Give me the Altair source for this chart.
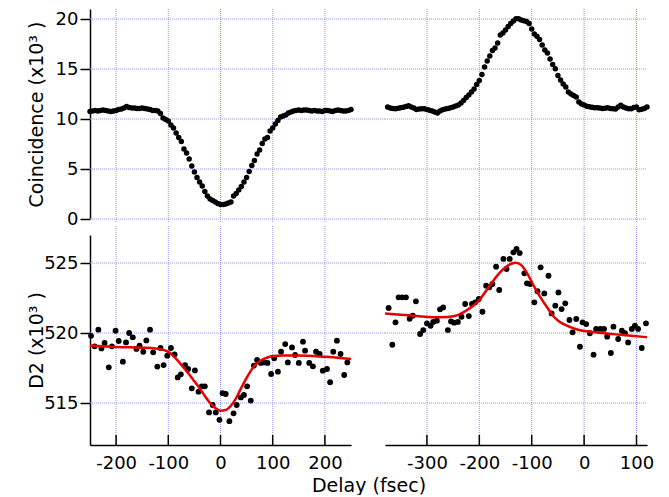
import altair as alt
import pandas as pd

FONT = "DejaVu Sans"
GRID = "#9696ee"

# ---------------- data ----------------
# top-left: coincidence dip
tl_t = list(range(-250, 255, 5))
tl_v = [10.75, 10.8, 10.85, 10.8, 10.85, 10.9, 10.85, 10.8, 10.75, 10.8,
        10.85, 10.95, 11.0, 11.1, 11.25, 11.15, 11.1, 11.1, 11.05, 11.05,
        11.1, 11.05, 11.0, 10.95, 10.85, 10.85, 10.8, 10.55, 10.1, 9.95,
        9.8, 9.4, 9.1, 8.6, 8.15, 7.75, 7.0, 6.6, 6.0, 5.3,
        4.7, 4.15, 3.7, 3.3, 2.75, 2.3, 2.0, 1.85, 1.7, 1.55,
        1.45, 1.45, 1.5, 1.6, 1.7, 2.3, 2.55, 2.9, 3.25, 3.7,
        4.15, 4.75, 5.35, 5.85, 6.5, 6.9, 7.55, 8.0, 8.15, 8.8,
        9.1, 9.5, 9.85, 10.2, 10.3, 10.4, 10.6, 10.7, 10.8, 10.85,
        10.9, 10.85, 10.9, 10.9, 10.85, 10.8, 10.85, 10.8, 10.8, 10.75,
        10.85, 10.85, 10.8, 10.75, 10.85, 10.9, 10.85, 10.8, 10.8, 10.85,
        10.95]

# top-right: coincidence peak
tr_t = list(range(-375, 125, 5))
tr_v = [11.2, 11.1, 11.05, 11.03, 11.08, 11.13, 11.18, 11.25, 11.33, 11.2,
        11.1, 10.95, 11.0, 11.03, 11.03, 10.95, 10.88, 10.8, 10.7, 10.6,
        10.8, 10.92, 11.0, 11.05, 11.12, 11.2, 11.3, 11.4, 11.6, 11.85,
        12.15, 12.4, 12.7, 13.0, 13.45, 13.85, 14.45, 15.2, 15.8, 16.3,
        16.85, 17.1, 17.6, 18.4, 18.6, 18.9, 19.25, 19.55, 19.8, 20.03,
        20.03, 19.9, 19.82, 19.75, 19.55, 19.0, 18.5, 18.27, 17.95, 17.4,
        16.9, 16.6, 16.0, 15.45, 15.03, 14.35, 13.9, 13.5, 13.2, 12.7,
        12.5, 12.35, 12.2, 11.7, 11.5, 11.4, 11.27, 11.22, 11.18, 11.13,
        11.12, 11.1, 11.05, 11.08, 11.13, 11.05, 11.03, 11.0, 11.2, 11.37,
        11.2, 11.1, 11.03, 11.03, 11.15, 11.2, 10.93, 10.98, 11.05, 11.2]

# bottom-left: D2 dip
bl_t = [-248, -241, -234, -228, -222, -214, -208, -201, -195, -187,
        -181, -175, -168, -161, -155, -148, -142, -135, -129, -121,
        -115, -109, -102, -95, -88, -82, -76, -68, -62, -55,
        -49, -42, -36, -30, -22, -15, -9, -2, 4, 10,
        17, 25, 31, 39, 45, 51, 58, 64, 70, 77,
        83, 90, 97, 103, 110, 116, 124, 129, 137, 143,
        150, 158, 162, 170, 177, 183, 190, 196, 204, 210,
        216, 223, 230, 237, 243]
bl_v = [519.8, 519.05, 520.24, 518.9, 519.29, 517.55, 519.05, 520.16, 519.43, 517.95,
        519.33, 520.0, 519.69, 518.86, 519.1, 518.66, 519.47, 520.24, 518.62, 517.6,
        518.93, 517.71, 518.38, 518.93, 518.47, 516.83, 517.05, 517.71, 517.43, 516.05,
        517.33, 515.81, 516.19, 516.19, 514.33, 514.86, 514.33, 513.8, 515.7, 515.64,
        513.7, 514.26, 514.86, 515.4, 515.57, 516.19, 515.17, 517.67, 518.07, 517.86,
        517.9, 517.86, 517.07, 518.19, 517.24, 518.66, 519.21, 517.9, 518.97, 518.43,
        517.86, 519.38, 518.74, 517.86, 517.62, 518.66, 518.5, 517.31, 517.43, 516.48,
        518.66, 519.45, 518.5, 517.0, 517.9]
# bottom-left fit (red)
fl_t = [-250, -200, -150, -125, -110, -100, -90, -80, -70, -60, -50, -40, -30, -20,
        -10, 0, 10, 20, 30, 40, 50, 60, 70, 80, 90, 100, 120, 150, 200, 250]
fl_v = [519.1, 519.0, 518.95, 518.9, 518.8, 518.65, 518.35, 517.95, 517.5, 517.05,
        516.55, 516.05, 515.5, 515.0, 514.65, 514.45, 514.5, 514.8, 515.35, 516.1,
        516.8, 517.4, 517.85, 518.1, 518.25, 518.35, 518.4, 518.4, 518.3, 518.15]

# bottom-right: D2 peak
br_t = [-373, -366, -360, -354, -347, -340, -333, -327, -321, -313,
        -307, -300, -293, -288, -281, -275, -269, -260, -254, -248,
        -241, -234, -227, -220, -214, -208, -201, -194, -187, -181,
        -175, -168, -162, -154, -148, -142, -135, -129, -123, -114,
        -109, -103, -95, -89, -83, -76, -68, -62, -55, -49,
        -43, -36, -28, -22, -15, -8, -3, 4, 11, 18,
        23, 31, 38, 44, 51, 56, 65, 72, 78, 84,
        91, 97, 103, 110, 118]
br_v = [521.79, 519.16, 520.76, 522.55, 522.55, 522.55, 521.02, 521.24, 522.26, 519.93,
        520.21, 520.69, 520.52, 520.79, 520.88, 521.69, 521.83, 520.21, 520.83, 520.74,
        520.79, 521.16, 522.07, 521.21, 522.07, 522.19, 522.43, 521.52, 523.38, 523.26,
        523.5, 524.74, 523.07, 525.29, 524.57, 525.29, 525.76, 526.0, 525.7, 524.26,
        523.55, 523.5, 522.19, 522.98, 524.69, 522.83, 524.09, 521.4, 521.95, 522.9,
        521.71, 522.12, 520.93, 520.05, 521.0, 519.02, 520.76, 520.64, 519.98, 518.45,
        520.29, 520.29, 520.29, 519.74, 518.57, 520.45, 519.57, 520.16, 519.98, 519.33,
        520.29, 520.52, 520.29, 518.93, 520.69]
# bottom-right fit (red)
fr_t = [-380, -350, -320, -290, -260, -240, -225, -210, -200, -190, -180, -170, -160,
        -150, -140, -130, -120, -110, -100, -90, -80, -70, -60, -50, -40, -25, -8,
        10, 25, 55, 90, 120]
fr_v = [521.4, 521.3, 521.22, 521.12, 521.15, 521.3, 521.6, 522.0, 522.35, 522.85,
        523.4, 523.9, 524.35, 524.7, 524.93, 525.02, 524.85, 524.35, 523.65, 522.95,
        522.35, 521.8, 521.25, 520.9, 520.65, 520.4, 520.2, 520.1, 520.03, 519.92,
        519.8, 519.7]

left_xticks = [-200, -100, 0, 100, 200]
right_xticks = [-300, -200, -100, 0, 100]
top_yticks = [0, 5, 10, 15, 20]
bot_yticks = [515, 520, 525]

# ---------------- layout ----------------
W_L, W_R = 261, 262
H_T, H_B = 210, 210
GAP_X, GAP_Y = 34, 16


def panel(pts, fit, xdom, ydom, xticks, yticks, W, H, show_x, show_y,
          ytitle, hgrid_to, vgrid_from, vgrid_to, dot_size, xtitle=None):
    xs = alt.Scale(domain=xdom, nice=False, zero=False)
    ys = alt.Scale(domain=ydom, nice=False, zero=False)
    if show_x:
        kw = {}
        if xtitle:
            kw = dict(title=xtitle, titleFont=FONT, titleFontSize=19,
                      titleFontWeight="normal", titleColor="black",
                      titleX=(W_L + GAP_X + W_R) / 2, titleY=46,
                      titleAlign="center", titleBaseline="alphabetic")
        else:
            kw = dict(title=None)
        xaxis = alt.Axis(values=xticks, ticks=False, grid=False, domain=True,
                         domainColor="black", domainWidth=1.5, labelFont=FONT,
                         labelFontSize=18, labelColor="black", labelPadding=9,
                         labelExpr="'' + datum.value", **kw)
    else:
        xaxis = None
    if show_y:
        yaxis = alt.Axis(values=yticks, tickSize=10, tickWidth=1.5, tickColor="black",
                         grid=False, domain=True, domainColor="black", domainWidth=1.5,
                         labelFont=FONT, labelFontSize=18, labelColor="black",
                         labelPadding=2, labelExpr="'' + datum.value",
                         title=ytitle, titleFont=FONT, titleFontSize=19,
                         titleFontWeight="normal", titleColor="black",
                         titlePadding=4, minExtent=40, maxExtent=40)
    else:
        yaxis = None
    X = alt.X("x:Q", scale=xs, axis=xaxis)
    Y = alt.Y("y:Q", scale=ys, axis=yaxis)

    hgrid = alt.Chart(pd.DataFrame({"y": yticks})).mark_rule(
        color=GRID, strokeDash=[1, 1], strokeWidth=1).encode(
        y=Y, x=alt.value(0), x2=alt.value(hgrid_to))
    vgrid = alt.Chart(pd.DataFrame({"x": xticks})).mark_rule(
        color=GRID, strokeDash=[1, 1], strokeWidth=1).encode(
        x=X, y=alt.value(vgrid_from), y2=alt.value(vgrid_to))
    layers = [hgrid, vgrid]
    layers.append(alt.Chart(pts).mark_circle(color="black", size=dot_size, opacity=1).encode(x=X, y=Y))
    if fit is not None:
        layers.append(alt.Chart(fit).mark_line(color="#e60000", strokeWidth=2.5,
                                               interpolate="monotone").encode(x=X, y=Y))
    if show_x:
        layers.append(alt.Chart(pd.DataFrame({"x": xticks})).mark_rule(
            color="black", strokeWidth=1.5).encode(x=X, y=alt.value(H), y2=alt.value(H - 10)))
    return alt.layer(*layers).properties(width=W, height=H)


tl = panel(pd.DataFrame({"x": tl_t, "y": tl_v}), None, [-250, 250], [0, 21],
           left_xticks, top_yticks, W_L, H_T, False, True, "Coincidence (x10³ )",
           W_L + GAP_X, 0, H_T + 3, 30)
tr = panel(pd.DataFrame({"x": tr_t, "y": tr_v}), None, [-380, 120], [0, 21],
           right_xticks, top_yticks, W_R, H_T, False, False, None,
           W_R, 0, H_T + 3, 30)
bl = panel(pd.DataFrame({"x": bl_t, "y": bl_v}), pd.DataFrame({"x": fl_t, "y": fl_v}),
           [-250, 250], [512, 527], left_xticks, bot_yticks, W_L, H_B, True, True,
           "D2 (x10³ )", W_L + GAP_X, -9, H_B, 34, xtitle="Delay (fsec)")
br = panel(pd.DataFrame({"x": br_t, "y": br_v}), pd.DataFrame({"x": fr_t, "y": fr_v}),
           [-380, 120], [512, 527], right_xticks, bot_yticks, W_R, H_B, True, False,
           None, W_R, -9, H_B, 34)

chart = alt.concat(
    tl, tr, bl, br, columns=2,
    spacing=alt.RowColnumber(row=GAP_Y, column=GAP_X),
    bounds="flush",
).properties(
    padding={"left": 19, "top": 0, "right": 5, "bottom": 0}
).configure_view(stroke=None)

chart.save("out.html", embed_options={"renderer": "svg", "actions": False})
